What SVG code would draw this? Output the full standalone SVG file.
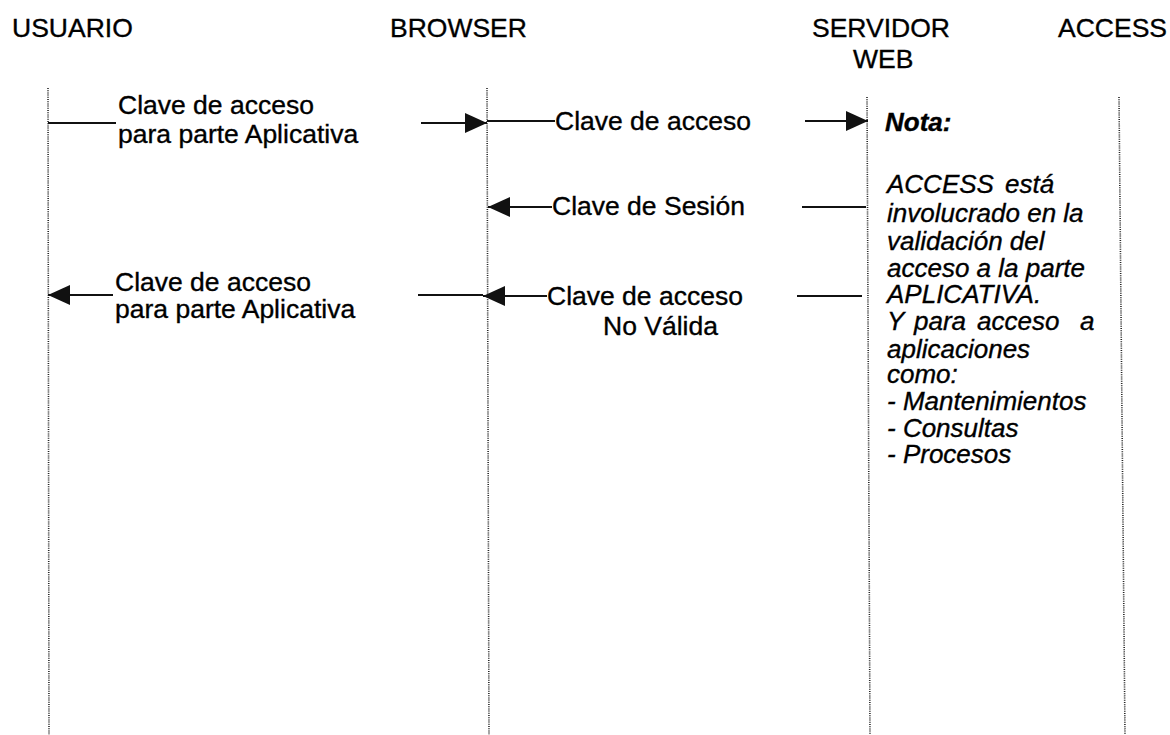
<svg xmlns="http://www.w3.org/2000/svg" width="1170" height="735" viewBox="0 0 1170 735">
<style>
  text { font-family: "Liberation Sans", Arial, sans-serif; font-size: 26.5px; fill: #000; stroke: #000; stroke-width: 0.35; }
  .note { font-style: italic; font-size: 26px; }
  .bold { font-weight: bold; }
  .life { stroke: #222; stroke-width: 1.6; stroke-dasharray: 1 1.2; fill: none; }
  .msg { stroke: #111; stroke-width: 2.2; fill: none; }
</style>
<defs>
  <marker id="ah" markerUnits="userSpaceOnUse" markerWidth="22" markerHeight="20" refX="22" refY="10" orient="auto">
    <path d="M0,0 L22,10 L0,20 z" fill="#111"/>
  </marker>
</defs>
<rect width="1170" height="735" fill="#fff"/>

<g id="usuario">
  <text x="12" y="37">USUARIO</text>
  <line class="life" x1="48" y1="88" x2="49" y2="735"/>
</g>
<g id="browser">
  <text x="390" y="37">BROWSER</text>
  <line class="life" x1="487" y1="88" x2="489" y2="735"/>
</g>
<g id="servidor-web">
  <text x="812" y="37">SERVIDOR</text>
  <text x="853" y="68">WEB</text>
  <line class="life" x1="867" y1="97" x2="870" y2="735"/>
</g>
<g id="access">
  <text x="1058" y="37">ACCESS</text>
  <line class="life" x1="1119" y1="97" x2="1125" y2="735"/>
</g>

<g id="connectors">
  <!-- row 1 -->
  <line class="msg" x1="48" y1="123" x2="116" y2="123"/>
  <line class="msg" x1="421" y1="123" x2="487" y2="123" marker-end="url(#ah)"/>
  <line class="msg" x1="487" y1="121" x2="555" y2="121"/>
  <line class="msg" x1="805" y1="121" x2="868" y2="121" marker-end="url(#ah)"/>
  <!-- row 2 -->
  <line class="msg" x1="552" y1="207" x2="488" y2="207" marker-end="url(#ah)"/>
  <line class="msg" x1="802" y1="207" x2="866" y2="207"/>
  <!-- row 3 -->
  <line class="msg" x1="113" y1="295" x2="48" y2="295" marker-end="url(#ah)"/>
  <line class="msg" x1="547" y1="296" x2="483" y2="296" marker-end="url(#ah)"/>
  <line class="msg" x1="483" y1="295" x2="418" y2="295"/>
  <line class="msg" x1="797" y1="296" x2="862" y2="296"/>
</g>

<g id="labels">
  <text x="118" y="114">Clave de acceso</text>
  <text x="118" y="143">para parte Aplicativa</text>
  <text x="555" y="130">Clave de acceso</text>
  <text x="552" y="215">Clave de Sesión</text>
  <text x="115" y="291">Clave de acceso</text>
  <text x="115" y="318">para parte Aplicativa</text>
  <text x="547" y="305">Clave de acceso</text>
  <text x="603" y="335">No Válida</text>
</g>

<g id="nota">
  <text class="note bold" x="885" y="131">Nota:</text>
  <text class="note" y="193"><tspan x="887">ACCESS</tspan><tspan x="1005">está</tspan></text>
  <text class="note" x="887" y="222">involucrado en la</text>
  <text class="note" x="887" y="250">validación del</text>
  <text class="note" x="887" y="277">acceso a la parte</text>
  <text class="note" x="887" y="303">APLICATIVA.</text>
  <text class="note" y="330"><tspan x="887">Y</tspan><tspan x="914">para</tspan><tspan x="977">acceso</tspan><tspan x="1080">a</tspan></text>
  <text class="note" x="887" y="358">aplicaciones</text>
  <text class="note" x="887" y="383">como:</text>
  <text class="note" x="887" y="410">- Mantenimientos</text>
  <text class="note" x="887" y="437">- Consultas</text>
  <text class="note" x="887" y="463">- Procesos</text>
</g>
</svg>
